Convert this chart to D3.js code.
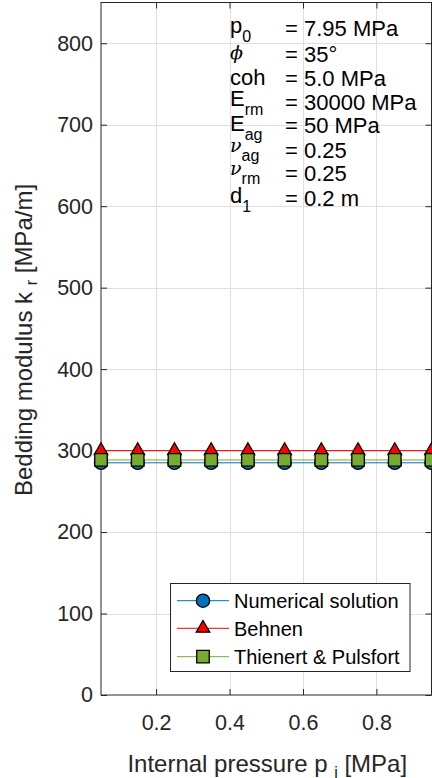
<!DOCTYPE html>
<html><head><meta charset="utf-8">
<script src="https://cdn.jsdelivr.net/npm/d3@7/dist/d3.min.js"></script>
<style>
html,body{margin:0;padding:0;background:#fff;}
svg{display:block;}
text{font-family:"Liberation Sans",Arial,Helvetica,sans-serif;}
</style></head>
<body>
<script>
// ---- data ----
const pressure = [0.05, 0.15, 0.25, 0.35, 0.45, 0.55, 0.65, 0.75, 0.85, 0.95];
const numerical = [285, 285, 285, 285, 285, 285, 285, 285, 285, 285];
const behnen = [300, 300, 300, 300, 300, 300, 300, 300, 300, 300];
const thienert = [288.5, 288.5, 288.5, 288.5, 288.5, 288.5, 288.5, 288.5, 288.5, 288.5];
const xTicks = [0.2, 0.4, 0.6, 0.8];
const yTicks = [0, 100, 200, 300, 400, 500, 600, 700, 800];
const seriesNames = ["Numerical solution", "Behnen", "Thienert & Pulsfort"];
const paramLabels = [
  {main: "p", sub: "0", greek: false},
  {main: "\u03D5", sub: "", greek: true},
  {main: "coh", sub: "", greek: false},
  {main: "E", sub: "rm", greek: false},
  {main: "E", sub: "ag", greek: false},
  {main: "\u03BD", sub: "ag", greek: true},
  {main: "\u03BD", sub: "rm", greek: true},
  {main: "d", sub: "1", greek: false}
];
const paramValues = ["= 7.95 MPa", "= 35\u00B0", "= 5.0 MPa", "= 30000 MPa", "= 50 MPa", "= 0.25", "= 0.25", "= 0.2 m"];

// ---- layout ----
const W = 432, H = 778;
const L = 101, R = 431.5, T = 2.5, B = 695;
const axisColor = "#262626";
const colors = {num: "#0072BD", beh: "#FF0000", thi: "#77AC30"};

const svg = d3.select("body").append("svg").attr("width", W).attr("height", H);
const x = d3.scaleLinear().domain([0.05, 0.95]).range([L, R]);
const y = d3.scaleLinear().domain([0, 850]).range([B, T]);

// grid
const grid = svg.append("g");
grid.selectAll("line.gx").data(xTicks).enter().append("line")
  .attr("x1", d => Math.round(x(d)) + 0.5).attr("x2", d => Math.round(x(d)) + 0.5)
  .attr("y1", T).attr("y2", B).attr("stroke", "#dfdfdf").attr("stroke-width", 1);
grid.selectAll("line.gy").data(yTicks.filter(d => d > 0)).enter().append("line")
  .attr("y1", d => Math.round(y(d)) + 0.5).attr("y2", d => Math.round(y(d)) + 0.5)
  .attr("x1", L).attr("x2", R).attr("stroke", "#dfdfdf").attr("stroke-width", 1);

// axes
function styleAxis(g, fs) {
  g.select(".domain").remove();
  g.selectAll(".tick line").attr("stroke", axisColor).attr("stroke-width", 1);
  g.selectAll(".tick text").attr("fill", axisColor).style("font-size", fs + "px")
    .style("font-family", '"Liberation Sans",Arial,sans-serif');
}
const fmtX = d3.format(".1f");
const gx = svg.append("g").attr("transform", `translate(0,${B})`)
  .call(d3.axisBottom(x).tickValues(xTicks).tickFormat(fmtX).tickSize(-6).tickPadding(20));
styleAxis(gx, 21.5);
const gxTop = svg.append("g").attr("transform", `translate(0,${T})`)
  .call(d3.axisTop(x).tickValues(xTicks).tickFormat("").tickSize(-6));
styleAxis(gxTop, 21.5);
const gy = svg.append("g").attr("transform", `translate(${L},0)`)
  .call(d3.axisLeft(y).tickValues(yTicks).tickFormat(d3.format("d")).tickSize(-6).tickPadding(8));
styleAxis(gy, 21.5);
const gyR = svg.append("g").attr("transform", `translate(${R},0)`)
  .call(d3.axisRight(y).tickValues(yTicks).tickFormat("").tickSize(-6));
styleAxis(gyR, 21.5);

// box
svg.append("rect").attr("x", L).attr("y", T).attr("width", R - L).attr("height", B - T)
  .attr("fill", "none").attr("stroke", axisColor).attr("stroke-width", 1);

// axis labels
const xl = svg.append("text").attr("x", (L + R) / 2 + 1).attr("y", 771.5)
  .attr("text-anchor", "middle").attr("fill", axisColor).style("font-size", "24px");
xl.append("tspan").text("Internal pressure p ");
xl.append("tspan").text("i").style("font-size", "16px").attr("dy", 6);
xl.append("tspan").text(" [MPa]").attr("dy", -6);

const yl = svg.append("text").attr("transform", "translate(31.5,340) rotate(-90)")
  .attr("text-anchor", "middle").attr("fill", axisColor).style("font-size", "24px");
yl.append("tspan").text("Bedding modulus k ");
yl.append("tspan").text("r").style("font-size", "16px").attr("dy", 5);
yl.append("tspan").text(" [MPa/m]").attr("dy", -5);

// series
const line = d3.line().x((d, i) => x(pressure[i])).y(d => y(d));
const sym = {
  circle: d3.symbol().type(d3.symbolCircle).size(Math.PI * 6.6 * 6.6),
  tri: d3.symbol().type(d3.symbolTriangle).size(80),
  sq: d3.symbol().type(d3.symbolSquare).size(12.5 * 12.5)
};
function drawSeries(vals, color, symGen, dyOff) {
  const g = svg.append("g");
  g.append("path").datum(vals).attr("d", line).attr("fill", "none")
    .attr("stroke", color).attr("stroke-width", 1);
  g.selectAll("path.m").data(vals).enter().append("path").attr("class", "m")
    .attr("d", symGen)
    .attr("transform", (d, i) => `translate(${x(pressure[i])},${y(d) + dyOff})`)
    .attr("fill", color).attr("stroke", "#000").attr("stroke-width", 1.3);
}
drawSeries(numerical, colors.num, sym.circle, 0);
drawSeries(behnen, colors.beh, sym.tri, 0);
drawSeries(thienert, colors.thi, sym.sq, 0);

// annotation
const labelBase = [33, 59, 85, 106, 130.7, 152, 175, 203];
const valueBase = [36, 61.7, 85.7, 110, 133.3, 157.7, 181, 206];
paramLabels.forEach((p, i) => {
  const t = svg.append("text").attr("x", 230).attr("y", labelBase[i]).attr("fill", "#000")
    .style("font-size", "22px");
  const m = t.append("tspan").text(p.main);
  if (p.greek) m.style("font-family", '"DejaVu Serif","Liberation Serif",serif')
    .style("font-style", "italic").style("font-size", "19px");
  if (p.sub) t.append("tspan").text(p.sub).style("font-size", "16px").attr("dy", 9);
});
paramValues.forEach((v, i) => {
  svg.append("text").attr("x", 285).attr("y", valueBase[i]).attr("fill", "#000")
    .style("font-size", "22px").text(v);
});

// legend
const lg = svg.append("g");
lg.append("rect").attr("x", 170.5).attr("y", 583.5).attr("width", 239.5).attr("height", 88)
  .attr("fill", "#fff").attr("stroke", axisColor).attr("stroke-width", 1);
const legendRows = [600.7, 628.3, 656.7];
const legendColors = [colors.num, colors.beh, colors.thi];
const legendSyms = [sym.circle, sym.tri, sym.sq];
seriesNames.forEach((n, i) => {
  const cy = legendRows[i];
  lg.append("line").attr("x1", 177).attr("x2", 229).attr("y1", cy).attr("y2", cy)
    .attr("stroke", legendColors[i]).attr("stroke-width", 1);
  lg.append("path").attr("d", legendSyms[i]()).attr("transform", `translate(203,${cy})`)
    .attr("fill", legendColors[i]).attr("stroke", "#000").attr("stroke-width", 1.3);
  lg.append("text").attr("x", 234).attr("y", cy + 7.3).attr("fill", "#000")
    .style("font-size", "20px").text(n);
});
</script>
</body></html>
